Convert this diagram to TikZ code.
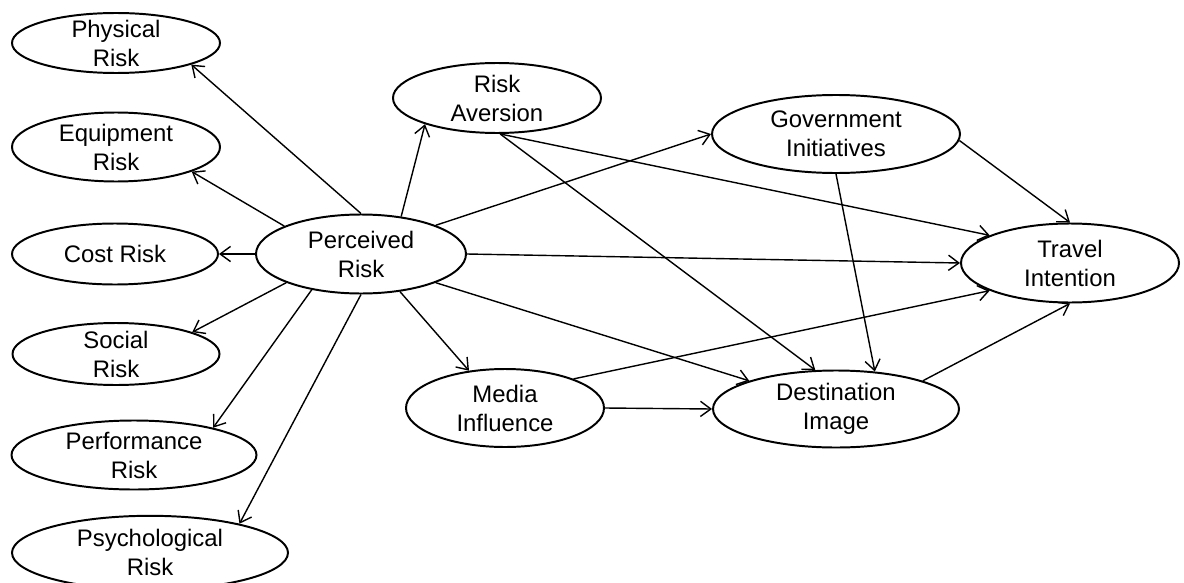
\documentclass[tikz,border=0pt]{standalone}
\usepackage{fontspec}
\setmainfont{Liberation Sans}
\usetikzlibrary{arrows.meta, shapes.geometric}

\begin{document}
\begin{tikzpicture}[>={Straight Barb[length=2.6mm, width=3.8mm]},
    font=\fontsize{17}{20.6}\selectfont,
    construct/.style={draw, ellipse, line width=1.4pt, align=center, inner xsep=0pt, inner ysep=-4pt},
    link/.style={->, line width=1pt}]
  \useasboundingbox (0,0) rectangle (29.6,-14.55);
  % risk dimensions on the left
  \node[construct, minimum width=5.2cm, minimum height=1.5cm]
        (phys) at (2.9,-1.075) {Physical\\Risk};
  \node[construct, minimum width=5.2cm, minimum height=1.725cm]
        (equip) at (2.9,-3.675) {Equipment\\Risk};
  \node[construct, minimum width=5.15cm, minimum height=1.525cm]
        (cost) at (2.875,-6.35) {Cost Risk};
  \node[construct, minimum width=5.175cm, minimum height=1.55cm]
        (social) at (2.9,-8.85) {Social\\Risk};
  \node[construct, minimum width=6.125cm, minimum height=1.725cm]
        (perf) at (3.35,-11.375) {Performance\\Risk};
  \node[construct, minimum width=6.9cm, minimum height=1.85cm]
        (psych) at (3.75,-13.82) {Psychological\\Risk};
  % core constructs
  \node[construct, minimum width=5.25cm, minimum height=1.975cm]
        (perc) at (9.025,-6.35) {Perceived\\Risk};
  \node[construct, minimum width=5.2cm, minimum height=1.75cm]
        (aver) at (12.425,-2.45) {Risk\\Aversion};
  \node[construct, minimum width=6.2cm, minimum height=1.95cm]
        (gov) at (20.9,-3.35) {Government\\Initiatives};
  \node[construct, minimum width=5.45cm, minimum height=1.975cm]
        (travel) at (26.75,-6.575) {Travel\\Intention};
  \node[construct, minimum width=4.95cm, minimum height=1.95cm]
        (media) at (12.625,-10.2) {Media\\Influence};
  \node[construct, minimum width=6.15cm, minimum height=1.925cm]
        (dest) at (20.9,-10.225) {Destination\\Image};
  % perceived risk to its dimensions
  \draw[link] (perc.north) -- (phys.-16);
  \draw[link] (perc.160) -- (equip.-18);
  \draw[link] (perc.west) -- (cost.east);
  \draw[link] (perc.201) -- (social.16);
  \draw[link] (perc.216) -- (perf.19);
  \draw[link] (perc.south) -- (psych.18);
  % structural paths
  \draw[link] (perc.-44) -- (media.134);
  \draw[link] (perc.43) -- (aver.200);
  \draw[link] (perc.21) -- (gov.west);
  \draw[link] (perc.east) -- (travel.west);
  \draw[link] (perc.-21) -- (dest.162);
  \draw[link] (aver.-85) -- (travel.161);
  \draw[link] (aver.-85) -- (dest.118);
  \draw[link] (gov.-3) -- (travel.north);
  \draw[link] (gov.south) -- (dest.44);
  \draw[link] (media.23) -- (travel.199);
  \draw[link] (media.east) -- (dest.west);
  \draw[link] (dest.18) -- (travel.south);
\end{tikzpicture}
\end{document}
